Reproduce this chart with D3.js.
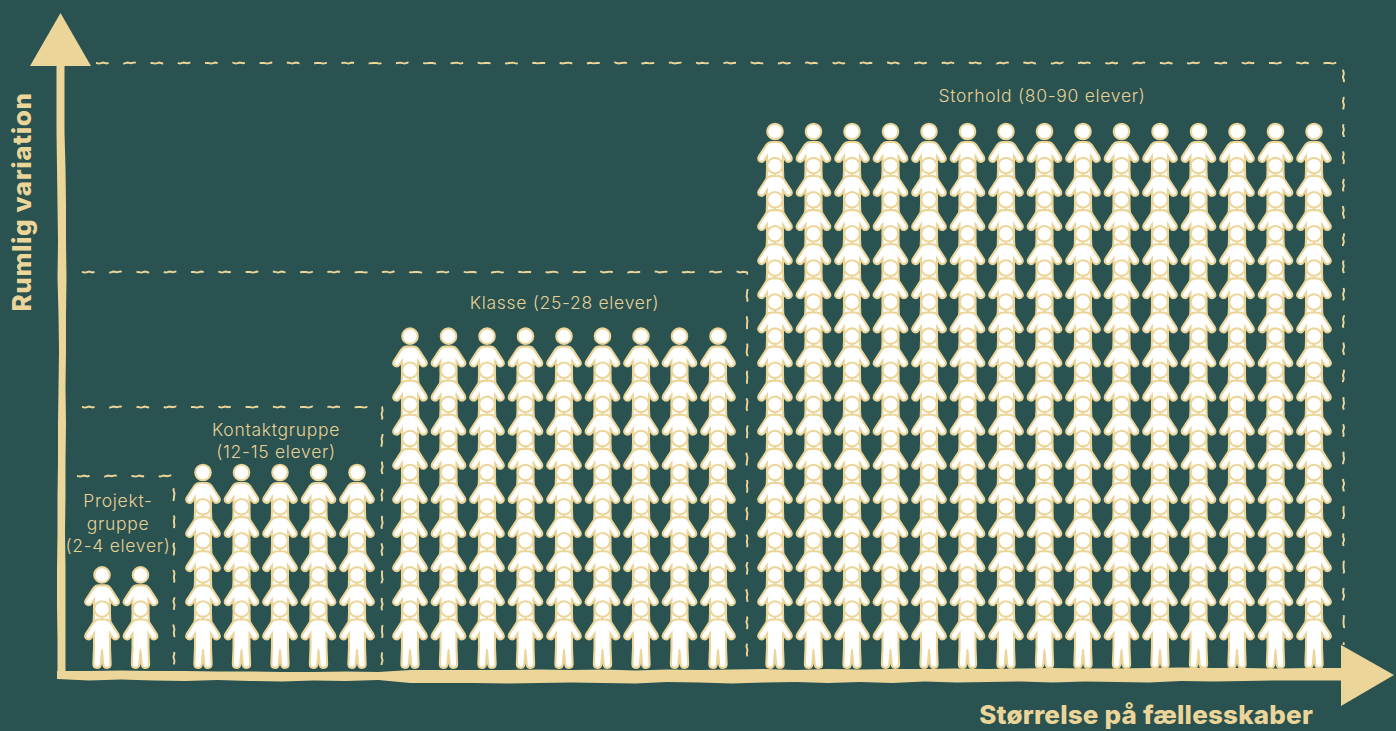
<!DOCTYPE html>
<html><head><meta charset="utf-8">
<script src="https://cdnjs.cloudflare.com/ajax/libs/d3/7.8.5/d3.min.js"></script>
<style>html,body{margin:0;padding:0;background:#295250;overflow:hidden}svg{display:block}</style>
</head><body><div id="chart"></div>
<script>
// --- data ---
const groupNames   = ["Projektgruppe", "Kontaktgruppe", "Klasse", "Storhold"];
const groupColumns = [2, 5, 9, 15];
const groupRows    = [2, 5, 9, 15];
const groupLabels  = [
  ["Projekt-", "gruppe", "(2-4 elever)"],
  ["Kontaktgruppe", "(12-15 elever)"],
  ["Klasse (25-28 elever)"],
  ["Storhold (80-90 elever)"]
];
const xAxisTitle = "Størrelse på fællesskaber";
const yAxisTitle = "Rumlig variation";

// hand-drawn axis edge offsets (px around the axis centre line, evenly spaced along it)
const xAxisUpper = [-5,-5,-5.5,-5,-5,-4.5,-4.5,-4,-4,-4.5,-4,-6,-6,-6,-6,-6.5,-6,-6.5,-5.5,-6.5,-6,-6.5,-7,-6,-7,-6.5,-7,-7,-7.5,-7,-7.5,-8,-7.5,-7.5,-8,-8.5,-8,-8,-7.5,-8,-8];
const xAxisLower = [3,4.5,3.5,4.5,5,4,5,5.5,4.5,5,4,7,7,7,7.5,7,6.5,7,7.5,6,6.5,7.5,6.5,6,7,6,7,5.5,6.5,6,5.5,6.5,5.5,6,6.5,5,5.5,5,4.5,4.5,4.5];
const yAxisLeft  = [-4,-4,-4,-3.5,-3,-2.5,-3,-2,-1.5,-2,-2.5,-2.5,-3,-3,-3.5,-3.5,-3,-3];
const yAxisRight = [4,4,4,5,5.5,5.5,6,5.5,5.5,5,5.5,5,5,4.5,5,5,5,5];
// slight wobble of the dashed lines
const dashWobble = [0,.6,-.5,.4,-.6,.5,0,-.4,.6,-.5,.2,-.6,.5,-.2,.4,0];

// --- layout ---
const W = 1396, H = 731;
const BG = "#295250", SAND = "#ecd599", WHITE = "#ffffff";
const groupXRange = [[102,140.5],[203,357],[410,718],[775,1314]];
const boxes = [
  {x0:77, x1:174, y0:476},
  {x0:82, x1:382, y0:407},
  {x0:82, x1:747, y0:272},
  {x0:96, x1:1343.5, y0:63}
];
const boxBottom = 671;

const svg = d3.select("#chart").append("svg").attr("width",W).attr("height",H).attr("viewBox",`0 0 ${W} ${H}`);
svg.append("rect").attr("width",W).attr("height",H).attr("fill",BG);

const rowY = d3.scaleLinear().domain([0,14]).range([609,131.5]);

// dashed boxes
boxes.forEach((b,i)=>{
  const wob = k => dashWobble[k % dashWobble.length];
  const pts = [];
  const stepsH = Math.round((b.x1-b.x0)/3.5);
  d3.range(stepsH+1).forEach(k=>{pts.push([b.x0+(b.x1-b.x0)*k/stepsH, b.y0+wob(k)]);});
  const bottom = i===3 ? 645 : boxBottom;
  const stepsV = Math.round((bottom-b.y0)/3.5);
  d3.range(1,stepsV+1).forEach(k=>{pts.push([b.x1+wob(k), b.y0+(bottom-b.y0)*k/stepsV]);});
  svg.append("path")
    .attr("d",d3.line()(pts))
    .attr("fill","none").attr("stroke",SAND).attr("stroke-width",1.9)
    .attr("stroke-dasharray","13 15");
});

// axes
const xAlong = d3.scaleLinear().domain([0,xAxisUpper.length-1]).range([57,1342]);
svg.append("path").attr("fill",SAND)
  .attr("d",d3.area().x((d,i)=>xAlong(i)).y0((d,i)=>676+xAxisLower[i]).y1((d,i)=>676+xAxisUpper[i])(xAxisUpper));
const yAlong = d3.scaleLinear().domain([0,yAxisLeft.length-1]).range([60,678]);
svg.append("path").attr("fill",SAND)
  .attr("d",d3.area().y((d,i)=>yAlong(i)).x0((d,i)=>60.5+yAxisLeft[i]).x1((d,i)=>60.5+yAxisRight[i])(yAxisLeft));
svg.append("path").attr("fill",SAND).attr("d",d3.line()([[30,66],[60.5,13],[91,66]])+"Z");
svg.append("path").attr("fill",SAND).attr("d",d3.line()([[1341,645],[1394,675],[1341,706]])+"Z");

// people
const bodyHalf = "M0,11.5 L3,11.5 Q6,11.5 7.8,14 L15.3,25.5 Q16.4,28 14.4,29 Q12.6,29.8 11.4,28 L7,21.5 L6.9,38 L7.6,55 Q7.6,57.8 5,57.8 Q2.4,57.8 2.2,55 L1,41 L0,39.5 ";
const bodyMirror = "L-1,41 L-2.2,55 Q-2.4,57.8 -5,57.8 Q-7.6,57.8 -7.6,55 L-6.9,38 L-7,21.5 L-11.4,28 Q-12.6,29.8 -14.4,29 Q-16.4,28 -15.3,25.5 L-7.8,14 Q-6,11.5 -3,11.5 Z";
groupNames.forEach((name,g)=>{
  const colX = d3.scalePoint().domain(d3.range(groupColumns[g])).range(groupXRange[g]);
  const cells = [];
  d3.range(groupRows[g]-1,-1,-1).forEach(r=>d3.range(groupColumns[g]).forEach(c=>cells.push({r,c})));
  const gp = svg.append("g").attr("data-group",name).selectAll("g").data(cells).join("g")
    .attr("transform",d=>`translate(${colX(d.c)},${rowY(d.r)})`)
    .attr("fill",WHITE).attr("stroke",SAND).attr("stroke-width",4.2)
    .attr("stroke-linejoin","round").attr("paint-order","stroke fill");
  gp.append("path").attr("d",bodyHalf+bodyMirror);
  gp.append("circle").attr("r",6.7);
});

// labels
const labelFont = "Inter, Lato, sans-serif";
const labelPos = [
  {x:118,y:[507,530,552]},
  {x:276,y:[436,458]},
  {x:564.5,y:[309]},
  {x:1042,y:[102]}
];
groupLabels.forEach((lines,i)=>{
  lines.forEach((t,j)=>{
    svg.append("text").text(t).attr("x",labelPos[i].x).attr("y",labelPos[i].y[j])
      .attr("text-anchor","middle").attr("fill","#e6d096")
      .attr("font-family",labelFont).attr("font-size",17.5).attr("font-weight",300)
      .attr("letter-spacing",0.7);
  });
});
svg.append("text").text(xAxisTitle).attr("x",1313).attr("y",724).attr("text-anchor","end")
  .attr("fill",SAND).attr("font-family",labelFont).attr("font-size",26).attr("font-weight",800).attr("letter-spacing",0.2);
svg.append("text").text(yAxisTitle).attr("transform","translate(31,202) rotate(-90)").attr("text-anchor","middle")
  .attr("fill",SAND).attr("font-family",labelFont).attr("font-size",26).attr("font-weight",800).attr("letter-spacing",0.6);
</script></body></html>
